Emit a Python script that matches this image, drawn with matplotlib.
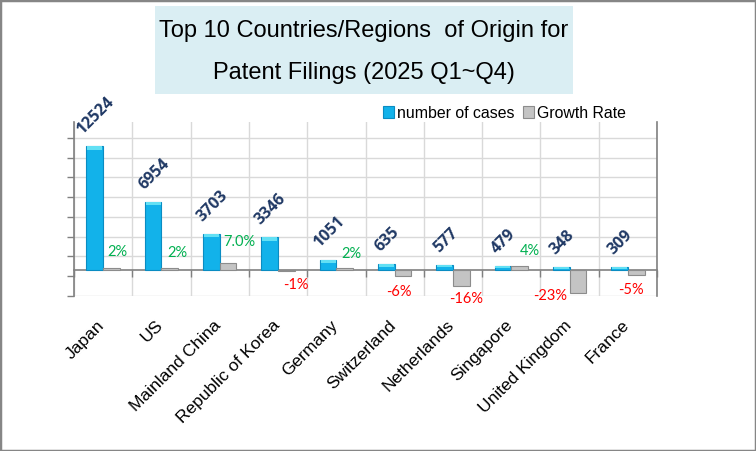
import numpy as np
import matplotlib
matplotlib.use("Agg")
import matplotlib.pyplot as plt
from matplotlib.patches import Rectangle
import matplotlib.transforms as mtransforms

# Data
countries = ['Japan', 'US', 'Mainland China', 'Republic of Korea', 'Germany',
             'Switzerland', 'Netherlands', 'Singapore', 'United Kingdom', 'France']
cases = [12524, 6954, 3703, 3346, 1051, 635, 577, 479, 348, 309]
growth = [2, 2, 7.0, -1, 2, -6, -16, 4, -23, -5]
growth_text = ['2%', '2%', '7.0%', '-1%', '2%', '-6%', '-16%', '4%', '-23%', '-5%']

# label nudges in pixels (style only)
growth_dx = [6, 8, 11, 9, 7, -4, 5, 10, -28, -5]
growth_dy = [9, 8, 14, 7, 7, 9, 6, 8, -4, 8]

W, H = 756, 451
fig = plt.figure(figsize=(W / 100, H / 100), dpi=100)
px = 0.72  # points per pixel

ax = fig.add_axes([74 / W, (H - 296) / H, (657 - 74) / W, (296 - 122) / H])
ax2 = ax.twinx()

x = np.arange(len(countries))
bw = 0.286
off = 0.143

# number of cases (blue bars with a lighter top cap)
bars1 = ax.bar(x - off, cases, bw, color='#12B2EA', edgecolor='#0A8CC2',
               linewidth=0.8, zorder=3, label='number of cases')
caps = [min(350, v / 2) for v in cases]
ax.bar(x - off, caps, bw * 0.9, bottom=[v - c for v, c in zip(cases, caps)],
       color='#62E0F4', linewidth=0, zorder=4)

# growth rate (gray bars)
bars2 = ax2.bar(x + off, growth, bw, color='#C4C4C4', edgecolor='#8C8C8C',
                linewidth=0.8, zorder=3, label='Growth Rate')

ax.set_xlim(-0.5, len(countries) - 0.5)
ax.set_ylim(-2600, 15000)
ax2.set_ylim(-26, 148)

# grid lines
ax.set_yticks(np.arange(-2600, 15000, 2000))
ax.set_yticklabels([])
ax.yaxis.grid(True, color='#D9D9D9', linewidth=1)
ax.get_ygridlines()[1].set_visible(False)
ax.set_xticks(np.arange(-0.5, len(countries), 1.0), minor=True)
ax.xaxis.grid(True, which='minor', color='#D9D9D9', linewidth=1)
ax.set_axisbelow(True)

# spines
ax.spines['top'].set_visible(False)
ax.spines['bottom'].set_position(('data', 0))
for s in ['left', 'right', 'bottom']:
    ax.spines[s].set_color('#808080')
    ax.spines[s].set_linewidth(1.2)
for s in ax2.spines.values():
    s.set_visible(False)
ax2.set_yticks([])

ax.tick_params(axis='y', direction='out', length=5, color='#808080', width=1)
ax.tick_params(axis='x', which='minor', direction='out', length=5, color='#808080', width=1)
ax.tick_params(axis='x', which='major', length=0, pad=34)

ax.set_xticks(x)
ax.set_xticklabels(countries, rotation=45, ha='right', fontsize=12.5,
                   family='Liberation Sans', color='black')
shift = mtransforms.ScaledTranslation(4.5 / 100, 0, fig.dpi_scale_trans)
for lab in ax.get_xticklabels():
    lab.set_transform(lab.get_transform() + shift)

# value labels
for xi, v in zip(x, cases):
    ax.annotate(f'{v}', (xi - off, v), xytext=(1 * px, 9 * px),
                textcoords='offset points', rotation=45, ha='center', va='bottom',
                fontsize=11.5, fontweight='bold', family='Open Sans', color='#1F3864',
                zorder=6)

for xi, g, t, dx, dy in zip(x, growth, growth_text, growth_dx, growth_dy):
    col = '#00B050' if g > 0 else '#FF0000'
    if g > 0:
        ax2.annotate(t, (xi + off, g), xytext=(dx * px, dy * px),
                     textcoords='offset points', ha='center', va='bottom',
                     fontsize=10.5, family='Lato', color=col)
    else:
        ax2.annotate(t, (xi + off, g), xytext=(dx * px, -dy * px),
                     textcoords='offset points', ha='center', va='top',
                     fontsize=10.5, family='Lato', color=col)

# title box
fig.patches.append(Rectangle((155 / W, 1 - 94 / H), (573 - 155) / W, (94 - 6) / H,
                             transform=fig.transFigure, facecolor='#DAEEF3',
                             edgecolor='none', zorder=0))
fig.text(364 / W, 1 - 31 / H, 'Top 10 Countries/Regions  of Origin for',
         ha='center', va='center', fontsize=17, family='Liberation Sans')
fig.text(364 / W, 1 - 73 / H, 'Patent Filings (2025 Q1~Q4)',
         ha='center', va='center', fontsize=17, family='Liberation Sans')

# legend
fig.legend(handles=[bars1, bars2], labels=['number of cases', 'Growth Rate'],
           loc='center left', bbox_to_anchor=(383 / W, 1 - 113 / H), ncol=2,
           frameon=False, prop={'family': 'Liberation Sans', 'size': 11.4},
           handlelength=0.7, handleheight=0.7, handletextpad=0.2,
           columnspacing=0.5, borderpad=0, borderaxespad=0)

# outer border
fig.patches.append(Rectangle((0, 0), 1, 1, transform=fig.transFigure, fill=False,
                             edgecolor='#868686', linewidth=2.5, zorder=10))

fig.savefig('out.png', dpi=100)
